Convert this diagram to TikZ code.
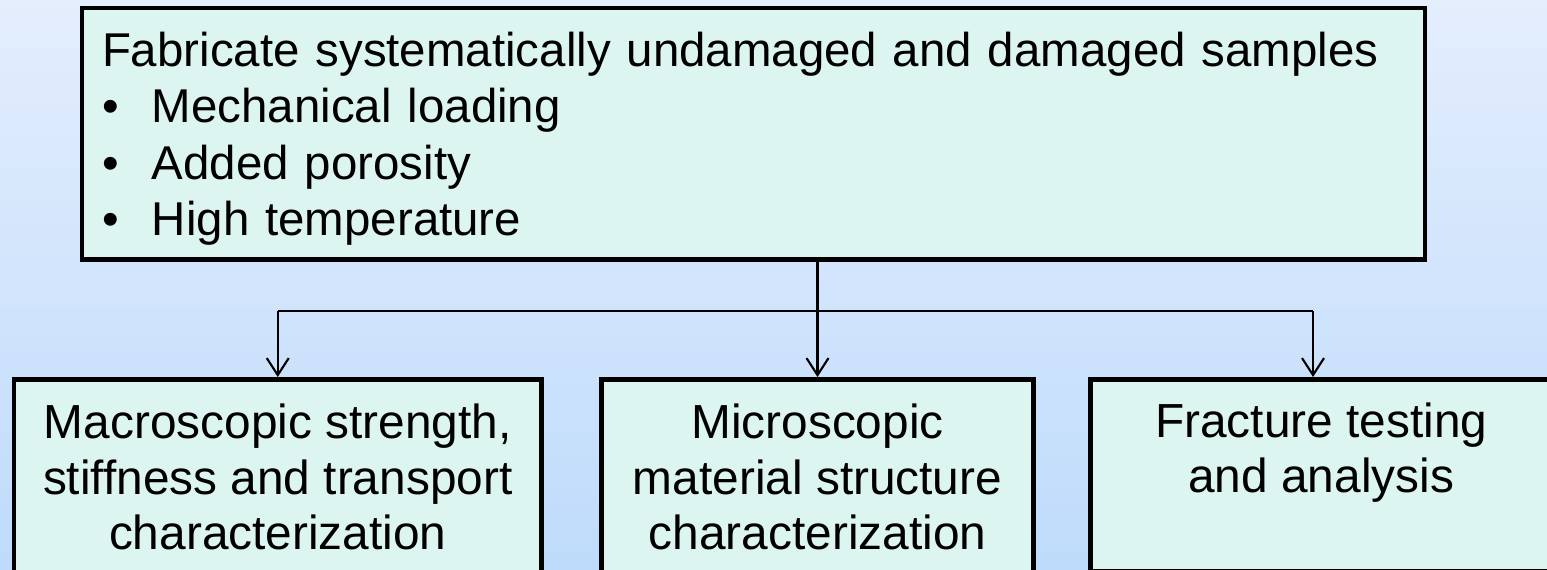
\documentclass[tikz,border=0pt]{standalone}
\usepackage{fontspec}
\setmainfont{Liberation Sans}
\usetikzlibrary{arrows.meta}
\definecolor{bgtop}{RGB}{228,238,253}
\definecolor{bgbottom}{RGB}{190,219,251}
\definecolor{boxfill}{RGB}{221,245,240}
\tikzset{
  box/.style={draw=black, line width=1.4pt, fill=boxfill, align=center,
    font=\fontsize{13.6}{15.8}\selectfont, inner sep=0pt},
  topbox/.style={box, align=left, text width=13.03cm, inner xsep=0.2cm,
    minimum height=2.515cm, font=\fontsize{13.5}{16.1}\selectfont},
  conn/.style={line width=0.6pt},
  arr/.style={conn, -{Straight Barb[length=1.7mm,width=2.2mm]}}
}
\begin{document}
\begin{tikzpicture}
  \useasboundingbox (0,0) rectangle (15.47,5.70);
  \clip (0,0) rectangle (15.47,5.70);
  \shade[top color=bgtop, bottom color=bgbottom] (0,0) rectangle (15.47,5.70);
  % boxes
  \node[topbox] (top) at (7.535,4.3625)
    {\rule{0pt}{0.94em}Fabricate systematically undamaged and damaged samples\\
     \makebox[0.5cm][l]{\textbullet}Mechanical loading\\
     \makebox[0.5cm][l]{\textbullet}Added porosity\\
     \makebox[0.5cm][l]{\textbullet}High temperature};
  \node[box, minimum width=5.275cm, minimum height=1.955cm] (mac) at (2.7775,0.9275)
    {Macroscopic strength,\\stiffness and transport\\characterization};
  \node[box, minimum width=4.32cm, minimum height=1.955cm] (mic) at (8.175,0.9275)
    {Microscopic\\material structure\\characterization};
  \node[box, minimum width=4.615cm, minimum height=1.915cm] (frac) at (13.2125,0.9475)
    {Fracture testing\\and analysis\\\mbox{}};
  % connectors
  \coordinate (split) at (8.18,2.59);
  \coordinate (rt) at (13.13,2.59);
  \draw[arr] (top.south -| mic.north) -- (mic.north);
  \draw[conn] (split -| mac.north) -- (rt);
  \draw[arr] (split -| mac.north) -- (mac.north);
  \draw[arr] (rt) -- (rt |- frac.north);
\end{tikzpicture}
\end{document}
